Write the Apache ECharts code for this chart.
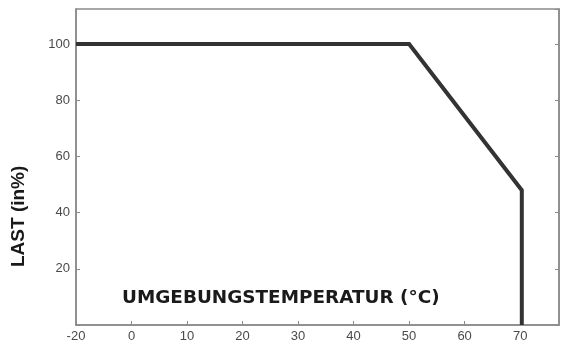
<!DOCTYPE html>
<html><head><meta charset="utf-8">
<script src="https://cdn.jsdelivr.net/npm/echarts@6/dist/echarts.min.js"></script>
<style>html,body{margin:0;padding:0;background:#fff}#c{width:561px;height:349px}</style>
</head><body><div id="c"></div>
<script>
// Derating curve data
const tempX = [-10, 50, 70.3, 70.3];
const loadY = [100, 100, 48, 0];
const xTickValues = [-10, 0, 10, 20, 30, 40, 50, 60, 70];
const xTickLabels = ['-20', '0', '10', '20', '30', '40', '50', '60', '70'];
const yTickLabels = ['20', '40', '60', '80', '100'];
const xName = 'UMGEBUNGSTEMPERATUR (°C)';
const yName = 'LAST (in%)';

const chart = echarts.init(document.getElementById('c'), null, {renderer: 'canvas'});
const axisGray = '#8a8a8a';
const labelFont = 'Liberation Sans Narrow, Arial Narrow, Liberation Sans';
chart.setOption({
  animation: false,
  backgroundColor: '#fff',
  grid: {left: 76, top: 9, right: 2, bottom: 24, show: true, borderColor: axisGray, borderWidth: 1.5, backgroundColor: 'transparent'},
  xAxis: {
    type: 'value', min: -10, max: 77, interval: 10,
    axisLine: {show: true, onZero: false, lineStyle: {color: axisGray, width: 1.5}},
    axisTick: {show: true, inside: true, length: 4, lineStyle: {color: axisGray}},
    splitLine: {show: false},
    axisLabel: {
      color: '#4a4a4a', fontFamily: labelFont, fontSize: 13, margin: 5,
      showMaxLabel: false,
      formatter: v => { const i = xTickValues.indexOf(v); return i >= 0 ? xTickLabels[i] : ''; }
    }
  },
  yAxis: [{
    type: 'value', min: 0, max: 112.5, interval: 20,
    axisLine: {show: true, onZero: false, lineStyle: {color: axisGray, width: 1.5}},
    axisTick: {show: true, inside: true, length: 4, lineStyle: {color: axisGray}},
    splitLine: {show: false},
    axisLabel: {
      color: '#4a4a4a', fontFamily: labelFont, fontSize: 13, margin: 6,
      showMaxLabel: false,
      formatter: v => yTickLabels.includes(String(v)) ? String(v) : ''
    }
  }, {
    type: 'value', min: 0, max: 112.5, interval: 20, position: 'right',
    axisLine: {show: true, onZero: false, lineStyle: {color: axisGray, width: 1.5}},
    axisTick: {show: true, inside: true, length: 4, lineStyle: {color: axisGray}},
    axisLabel: {show: false}, splitLine: {show: false}
  }],
  series: [{
    type: 'line',
    data: tempX.map((x, i) => [x, loadY[i]]),
    showSymbol: false, symbol: 'none',
    lineStyle: {color: '#333', width: 4, join: 'miter'},
    z: 5
  }],
  graphic: [{
    type: 'text', left: 122, top: 289,
    style: {text: xName, fill: '#1a1a1a', font: 'bold 18.4px "DejaVu Sans", sans-serif'}
  }, {
    type: 'text', x: 9, y: 267, rotation: Math.PI / 2,
    style: {text: yName, fill: '#1a1a1a', font: 'bold 19px "Liberation Sans", Arial, sans-serif', textVerticalAlign: 'top'}
  }]
});
</script></body></html>
